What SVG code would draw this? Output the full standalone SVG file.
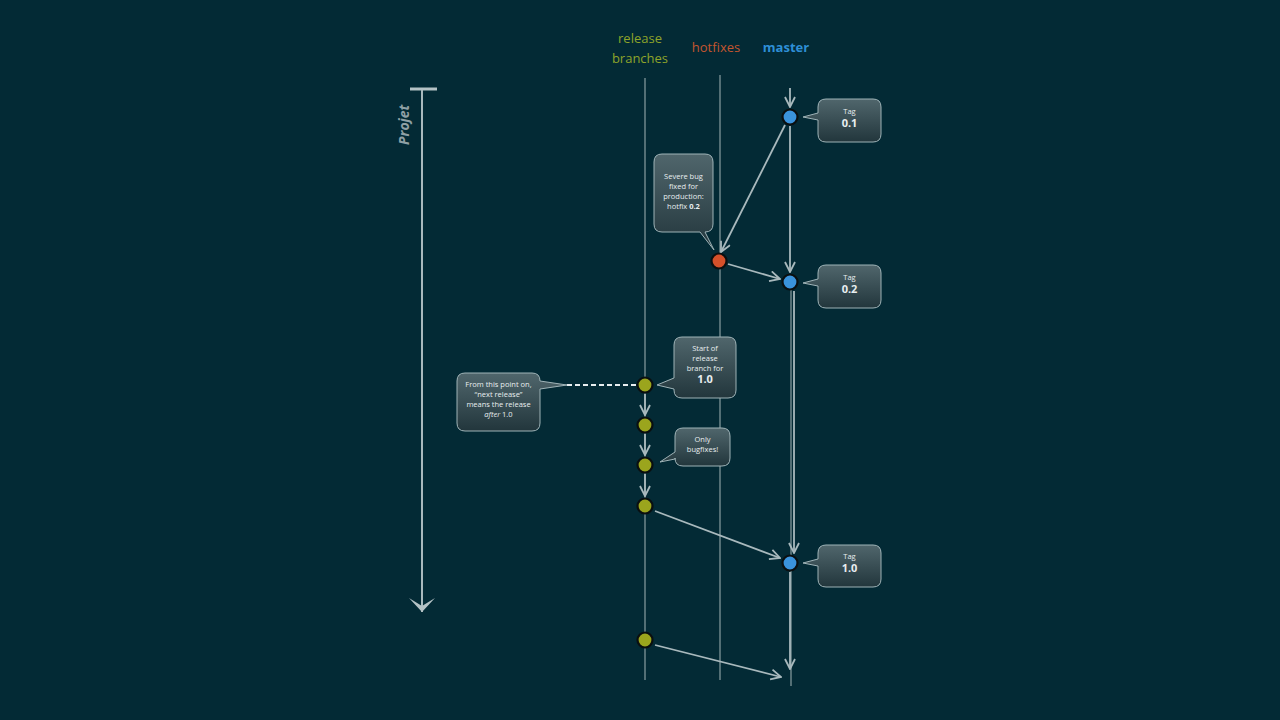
<svg xmlns="http://www.w3.org/2000/svg" width="1280" height="720" viewBox="0 0 1280 720">
<defs>
<linearGradient id="cg" x1="0" y1="0" x2="0" y2="1">
<stop offset="0" stop-color="#50666c"/>
<stop offset="1" stop-color="#22363c"/>
</linearGradient>
<marker id="ah" viewBox="0 0 12 12" refX="11" refY="6" markerWidth="12" markerHeight="12" markerUnits="userSpaceOnUse" orient="auto">
<path d="M1,1 L11,6 L1,11" fill="none" stroke="#a9b9bd" stroke-width="1.8"/>
</marker>
<marker id="big" viewBox="0 0 30 20" refX="15" refY="18" markerWidth="30" markerHeight="20" markerUnits="userSpaceOnUse" orient="0">
<path d="M2,4 L15,18 L28,4 L15,12 Z" fill="#b4c2c5"/>
</marker>
</defs>
<style>
.lane{stroke:#8a9da2;stroke-width:1.6;fill:none;opacity:0.75}
.c{stroke:#a9b9bd;stroke-width:1.8;fill:none;marker-end:url(#ah)}
.call{fill:url(#cg);stroke:#9fb3b7;stroke-width:1}
.t{font-family:"Open Sans","Liberation Sans",sans-serif;fill:#e8eef0;text-anchor:middle}
.s{font-size:7.5px}
.b{font-size:11px;font-weight:bold}
.hd{font-family:"Open Sans","Liberation Sans",sans-serif;font-size:13px;text-anchor:middle}
.node{stroke:#0a0f10;stroke-width:2.2}
.rel{fill:#9ba51d}
.mas{fill:#3a93dc}
.hot{fill:#d4502a}
</style>
<rect width="1280" height="720" fill="#032a35"/>
<g id="headers">
<text class="hd" x="640" y="43" fill="#8ea42a">release</text>
<text class="hd" x="640" y="63" fill="#8ea42a">branches</text>
<text class="hd" x="716" y="52" fill="#c4552f">hotfixes</text>
<text class="hd" x="786" y="52" fill="#2e8fd6" font-weight="bold">master</text>
</g>
<g id="projet">
<line x1="410" y1="89" x2="437" y2="89" stroke="#b4c2c5" stroke-width="3"/>
<line x1="422" y1="90" x2="422" y2="612" stroke="#a9b9bd" stroke-width="2" marker-end="url(#big)"/>
<text x="409" y="145" transform="rotate(-90 409 145)" font-family="'Open Sans','Liberation Sans',sans-serif" font-size="14" font-weight="bold" font-style="italic" fill="#8fa0a5">Projet</text>
</g>
<g id="lanes">
<line class="lane" x1="645" y1="78" x2="645" y2="680"/>
<line class="lane" x1="720" y1="75" x2="720" y2="680"/>
<line class="lane" x1="791" y1="290" x2="791" y2="686"/>
</g>
<g id="connectors">
<line class="c" x1="790" y1="88" x2="790" y2="107"/>
<line class="c" x1="785" y1="125" x2="721" y2="252"/>
<line class="c" x1="790" y1="126" x2="790" y2="272"/>
<line class="c" x1="728" y1="264" x2="780" y2="279"/>
<line class="c" x1="794" y1="291" x2="794" y2="553"/>
<line class="c" x1="645" y1="394" x2="645" y2="415"/>
<line class="c" x1="645" y1="434" x2="645" y2="455"/>
<line class="c" x1="645" y1="474" x2="645" y2="496"/>
<line class="c" x1="655" y1="511" x2="780" y2="558"/>
<line class="c" x1="790" y1="572" x2="790" y2="669"/>
<line class="c" x1="655" y1="645" x2="781" y2="677"/>
<line x1="567" y1="385" x2="645" y2="385" stroke="#e8eef0" stroke-width="2" stroke-dasharray="5,3"/>
</g>
<g id="n-m01"><circle class="node mas" cx="790" cy="117" r="7.5"/></g>
<g id="n-hot"><circle class="node hot" cx="719" cy="261" r="7.5"/></g>
<g id="n-m02"><circle class="node mas" cx="790" cy="282" r="7.5"/></g>
<g id="n-m10"><circle class="node mas" cx="790" cy="563" r="7.5"/></g>
<g id="n-r1"><circle class="node rel" cx="645" cy="385" r="7.5"/></g>
<g id="n-r2"><circle class="node rel" cx="645" cy="425" r="7.5"/></g>
<g id="n-r3"><circle class="node rel" cx="645" cy="465" r="7.5"/></g>
<g id="n-r4"><circle class="node rel" cx="645" cy="506" r="7.5"/></g>
<g id="n-r5"><circle class="node rel" cx="645" cy="640" r="7.5"/></g>
<g id="tag01">
<path class="call" d="M826,99 H873 Q881,99 881,107 V134 Q881,142 873,142 H826 Q818,142 818,134 V120 L803,117 L818,113 V107 Q818,99 826,99 Z"/>
<text class="t s" x="849.5" y="114">Tag</text>
<text class="t b" x="849.5" y="127">0.1</text>
</g>
<g id="tag02">
<path class="call" d="M826,265 H873 Q881,265 881,273 V300 Q881,308 873,308 H826 Q818,308 818,300 V286 L803,283 L818,279 V273 Q818,265 826,265 Z"/>
<text class="t s" x="849.5" y="280">Tag</text>
<text class="t b" x="849.5" y="293">0.2</text>
</g>
<g id="tag10">
<path class="call" d="M826,545 H873 Q881,545 881,553 V579 Q881,587 873,587 H826 Q818,587 818,579 V566 L803,563 L818,559 V553 Q818,545 826,545 Z"/>
<text class="t s" x="849.5" y="559">Tag</text>
<text class="t b" x="849.5" y="572">1.0</text>
</g>
<g id="severe">
<path class="call" d="M662,154 H705 Q713,154 713,162 V224 Q713,232 705,232 L714,250 L700,232 H662 Q654,232 654,224 V162 Q654,154 662,154 Z"/>
<text class="t s" x="683.5" y="179">Severe bug</text>
<text class="t s" x="683.5" y="189">fixed for</text>
<text class="t s" x="683.5" y="199">production:</text>
<text class="t s" x="683.5" y="209">hotfix <tspan font-weight="bold">0.2</tspan></text>
</g>
<g id="start">
<path class="call" d="M682,337 H728 Q736,337 736,345 V390 Q736,398 728,398 H682 Q674,398 674,390 V389 L657,385 L674,378 V345 Q674,337 682,337 Z"/>
<text class="t s" x="705" y="351">Start of</text>
<text class="t s" x="705" y="361">release</text>
<text class="t s" x="705" y="371">branch for</text>
<text class="t b" x="705" y="383" font-size="10">1.0</text>
</g>
<g id="bugfixes">
<path class="call" d="M683,428 H722 Q730,428 730,436 V458 Q730,466 722,466 H683 Q675,466 675,458 V459 L660,462 L675,452 V436 Q675,428 683,428 Z"/>
<text class="t s" x="702.5" y="442">Only</text>
<text class="t s" x="702.5" y="452">bugfixes!</text>
</g>
<g id="fromthis">
<path class="call" d="M465,373 H532 Q540,373 540,381 V381 L567,385 L540,389 V423 Q540,431 532,431 H465 Q457,431 457,423 V381 Q457,373 465,373 Z"/>
<text class="t s" x="498.5" y="387">From this point on,</text>
<text class="t s" x="498.5" y="397">“next release”</text>
<text class="t s" x="498.5" y="407">means the release</text>
<text class="t s" x="498.5" y="417"><tspan font-style="italic">after</tspan> 1.0</text>
</g>
</svg>
